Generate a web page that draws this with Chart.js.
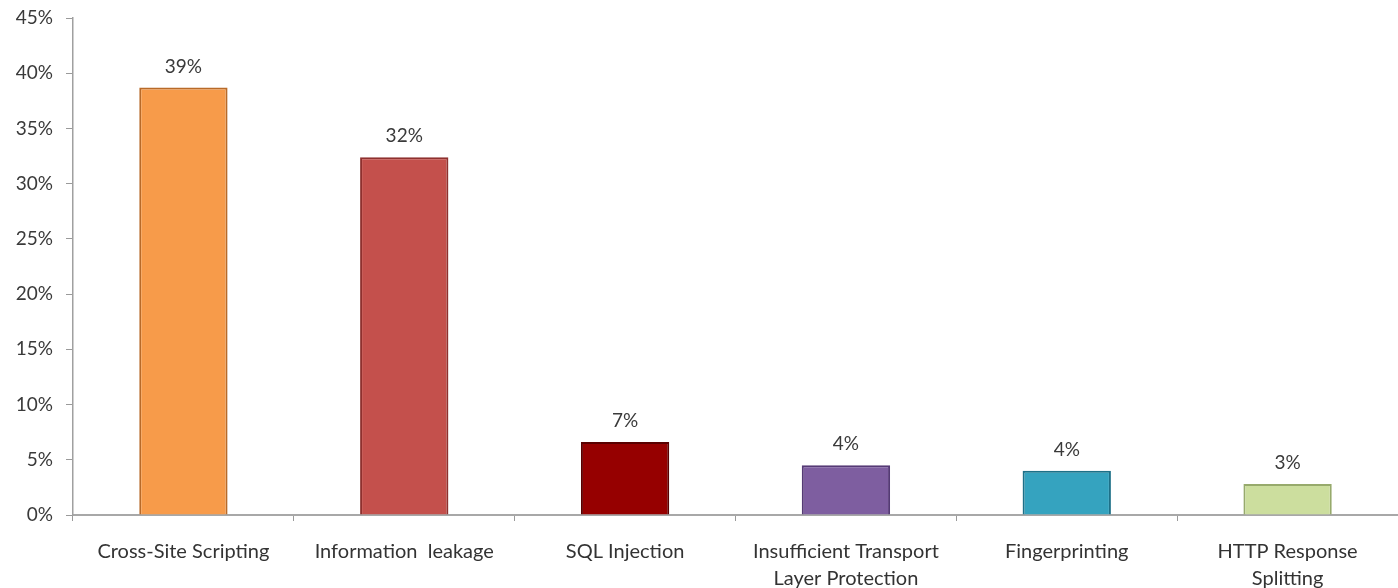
<!DOCTYPE html>
<html>
<head>
<meta charset="utf-8">
<script src="https://cdn.jsdelivr.net/npm/chart.js@4.4.1/dist/chart.umd.min.js"></script>
<style>
  html, body { margin: 0; padding: 0; background: #fff; overflow: hidden; }
</style>
</head>
<body>
<canvas id="vulnChart" width="1398" height="588"></canvas>
<script>
// categories (multi-line labels as arrays)
const categories = [
    'Cross-Site Scripting',
    'Information  leakage',
    'SQL Injection',
    ['Insufficient Transport', 'Layer Protection'],
    'Fingerprinting',
    ['HTTP Response', 'Splitting']
];
// bar heights (%)
const shares = [38.7, 32.4, 6.6, 4.5, 4.0, 2.8];
// value labels as printed above the bars
const shareLabels = ['39%', '32%', '7%', '4%', '4%', '3%'];
const barColors = ['#F79B4A', '#C4504C', '#960000', '#7E5EA0', '#35A3BF', '#CCDE9E'];
const barEdges = ['#B86A28', '#8E302E', '#5A0000', '#553A75', '#1D7088', '#97AA6C'];
const yTicks = [0, 5, 10, 15, 20, 25, 30, 35, 40, 45];

const textFont = 'Lato, "Open Sans", sans-serif';

// draw the value text over each bar
const valueLabels = {
    id: 'valueLabels',
    afterDatasetsDraw(chart) {
        const ctx = chart.ctx;
        const meta = chart.getDatasetMeta(0);
        ctx.save();
        ctx.font = '19px ' + textFont;
        ctx.fillStyle = '#3a3a3a';
        ctx.textAlign = 'center';
        ctx.textBaseline = 'middle';
        meta.data.forEach((bar, i) => {
            ctx.fillText(shareLabels[i], bar.x, bar.y - 21);
        });
        ctx.restore();
    }
};

new Chart(document.getElementById('vulnChart'), {
    type: 'bar',
    data: {
        labels: categories,
        datasets: [{
            data: shares,
            backgroundColor: barColors,
            borderColor: barEdges,
            borderWidth: 2,
            barPercentage: 0.4,
            categoryPercentage: 1.0
        }]
    },
    options: {
        responsive: false,
        animation: false,
        devicePixelRatio: 1,
        layout: { padding: { top: 18, right: 0, left: 0, bottom: 0 } },
        plugins: {
            legend: { display: false },
            tooltip: { enabled: false }
        },
        scales: {
            x: {
                afterFit: scale => { scale.height = 73; },
                grid: {
                    offset: true,
                    drawOnChartArea: false,
                    drawTicks: true,
                    tickLength: 6,
                    color: '#9a9a9a'
                },
                border: { color: '#a8a8a8', width: 2 },
                ticks: {
                    color: '#333',
                    padding: 17,
                    maxRotation: 0,
                    autoSkip: false,
                    font: { family: textFont, size: 20, lineHeight: 1.35 }
                }
            },
            y: {
                min: 0,
                max: 45,
                afterFit: scale => {
                    scale.width = 73;
                    scale.paddingTop = 0;
                    scale.paddingBottom = 0;
                },
                afterBuildTicks: scale => {
                    scale.ticks = yTicks.map(v => ({ value: v }));
                },
                grid: {
                    drawOnChartArea: false,
                    drawTicks: true,
                    tickLength: 7,
                    color: '#9a9a9a'
                },
                border: { color: '#a0a0a0', width: 1.5 },
                ticks: {
                    color: '#3a3a3a',
                    padding: 13,
                    font: { family: textFont, size: 19 },
                    callback: v => v + '%'
                }
            }
        }
    },
    plugins: [valueLabels]
});
</script>
</body>
</html>
